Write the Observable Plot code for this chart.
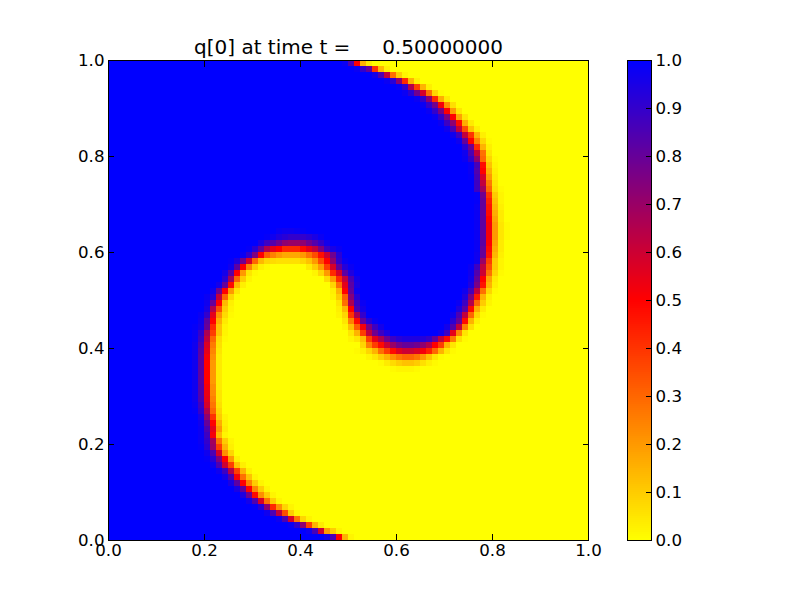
<!DOCTYPE html>
<html>
<head>
<meta charset="utf-8">
<script src="https://cdn.jsdelivr.net/npm/d3@7"></script>
<script src="https://cdn.jsdelivr.net/npm/@observablehq/plot@0.6"></script>
<style>
html,body{margin:0;padding:0;background:#fff;}
#wrap{position:relative;width:800px;height:600px;overflow:hidden;}
#wrap svg{position:absolute;top:0;}
</style>
</head>
<body>
<div id="wrap"></div>
<script>
const titleText = "q[0] at time t =     0.50000000";
const axisTicks = [0, 0.2, 0.4, 0.6, 0.8, 1];
const barTicks = [0, 0.1, 0.2, 0.3, 0.4, 0.5, 0.6, 0.7, 0.8, 0.9, 1];
const colorStops = [0, 0.5, 1];
const colorRange = ["#ffff00", "#ff0000", "#0000ff"];
const gridSize = 80;

// One entry per grid row, top row first. Each segment is [first column, percent values...];
// the columns between segments stay fully blue (100) or fully yellow (0).
const rowsTop = [
  [[39,98,85,50,15,4]],
  [[41,98,90,80,40,14,3]],
  [[44,96,85,62,28,10,2]],
  [[46,98,92,72,42,15,3]],
  [[48,98,90,65,38,15,3]],
  [[49,98,92,78,58,28,8,1]],
  [[51,98,90,72,42,16,4]],
  [[52,98,90,78,52,22,6]],
  [[53,98,90,76,50,20,5]],
  [[54,98,90,75,50,18,5]],
  [[55,98,88,72,48,16,4]],
  [[56,97,85,62,35,12,3]],
  [[57,97,88,62,40,15,3]],
  [[58,97,80,50,25,8,1]],
  [[59,92,78,42,15,3]],
  [[59,97,85,62,28,5]],
  [[59,98,90,72,30,8,1]],
  [[60,98,86,48,12,2]],
  [[60,98,84,50,16,3]],
  [[60,99,86,58,20,4]],
  [[61,88,62,26,5]],
  [[61,88,68,30,6,1]],
  [[61,99,78,40,10,2]],
  [[61,99,80,44,12,2]],
  [[61,98,80,46,14,3]],
  [[61,98,82,48,16,4]],
  [[61,98,82,50,18,4]],
  [[61,98,82,52,20,5,1]],
  [[28,98,97,97,98,99],[61,98,82,52,20,5,1]],
  [[26,99,97,94,92,90,90,90,92,95,98],[61,98,82,52,20,5,1]],
  [[25,95,88,84,78,72,70,70,72,78,84,90,96],[61,98,82,50,18,4]],
  [[23,99,92,80,65,55,50,42,42,42,48,55,62,75,88,95,98],[61,98,80,48,16,4]],
  [[22,98,90,75,50,32,25,20,17,17,17,20,27,35,47,60,78,92],[61,97,80,46,14,3]],
  [[20,99,94,78,58,30,14,8,7,6,6,6,6,8,12,20,35,50,72,90,98],[61,97,70,38,10,2]],
  [[20,97,82,50,24,10,3,1],[33,4,10,20,38,58,80,93,98],[60,98,88,62,34,10,2]],
  [[19,96,82,50,20,5,1],[34,2,8,20,42,58,82,94,99],[60,97,84,60,28,8,1]],
  [[19,92,68,30,10,2],[36,7,20,42,62,85,96],[60,96,80,50,18,4]],
  [[18,96,80,48,14,3],[37,8,28,55,82,95],[60,94,76,46,15,3]],
  [[17,97,78,50,20,5],[37,3,15,50,80,97],[59,97,86,62,28,8,1]],
  [[16,98,93,62,30,8,1],[37,2,10,32,74,92],[59,94,75,45,15,3]]
];
const rowsBottom = [
  [[16,97,80,50,14,3],[38,5,28,66,88,98],[58,98,88,65,30,10,2]],
  [[16,95,65,35,10,2],[38,3,14,50,85,96],[58,94,82,48,16,4]],
  [[15,98,90,55,22,7,1],[38,2,8,40,66,90],[57,97,85,62,30,8,1]],
  [[15,97,82,50,16,4],[39,5,25,48,80,92,98],[57,92,80,48,15,3]],
  [[14,99,96,80,42,12,2],[39,2,13,32,52,75,88,96],[56,96,84,62,25,6]],
  [[14,98,90,66,38,12,2],[40,5,15,38,62,78,88,94],[55,97,88,55,24,5]],
  [[14,98,88,62,30,7,1],[40,2,5,13,38,55,66,78,88,92,94,94,94,93,90,80,62,48,26,6,1]],
  [[14,97,85,57,26,6],[42,8,25,38,48,60,70,77,80,80,78,72,65,50,38,15,5]],
  [[14,97,83,55,24,5],[41,1,3,8,15,28,38,48,56,60,60,57,52,44,30,15,5,1]],
  [[14,97,82,52,22,4],[43,2,5,10,15,22,27,30,30,27,20,12,5,1]],
  [[14,97,82,50,20,4],[45,1,4,7,10,12,12,10,6,3,1]],
  [[14,97,82,50,20,4],[47,1,2,2,2,1]],
  [[14,97,82,50,20,4]],
  [[14,97,82,50,20,4]],
  [[14,97,83,52,22,4]],
  [[14,97,84,54,23,5]],
  [[14,97,85,55,25,5]],
  [[14,98,88,58,27,6]],
  [[14,99,90,65,30,8]],
  [[15,95,72,40,10,2]],
  [[15,97,80,50,16,3]],
  [[15,98,85,55,20,4]],
  [[15,98,88,52,14,2]],
  [[15,98,90,68,28,10,2]],
  [[15,99,92,70,38,15,3]],
  [[16,97,85,58,22,8]],
  [[16,99,92,75,50,20,3]],
  [[17,97,85,60,38,12,3]],
  [[18,97,88,65,38,15,3]],
  [[19,96,84,52,28,12,2]],
  [[20,95,82,50,25,10,2]],
  [[21,95,80,50,24,10,2]],
  [[22,94,78,48,22,10,2]],
  [[23,96,84,58,28,10,2]],
  [[24,99,92,72,42,22,8,2]],
  [[26,97,85,62,35,10,2]],
  [[28,97,85,58,28,8,2]],
  [[30,98,90,72,38,15,4]],
  [[33,97,86,60,20,10,2]],
  [[36,96,85,50,15,2]]
];

const rows = rowsTop.concat(rowsBottom);
const cells = [];
rows.forEach((segs, j) => {
  let fill = segs[0][1] >= 50 ? 100 : 0;
  let col = 0;
  const put = v => {
    cells.push({x1: col / gridSize, x2: (col + 1) / gridSize,
                y1: 1 - (j + 1) / gridSize, y2: 1 - j / gridSize, v: v / 100});
    col++;
  };
  for (const [start, ...vals] of segs) {
    while (col < start) put(fill);
    vals.forEach(put);
    fill = vals[vals.length - 1] >= 50 ? 100 : 0;
  }
  while (col < gridSize) put(fill);
});

const barLevels = d3.range(0, 240).map(i => ({y1: i / 240, y2: (i + 1) / 240, v: (i + 0.5) / 240}));
const colorOpt = {type: "linear", domain: colorStops, range: colorRange, interpolate: "rgb"};
const font = "'DejaVu Sans', sans-serif";
const fs = 16.67;
const fmt = d3.format(".1f");

const main = Plot.plot({
  width: 600, height: 600,
  marginLeft: 108, marginRight: 12, marginTop: 60, marginBottom: 60,
  style: {background: "transparent", fontFamily: font, overflow: "visible"},
  x: {domain: [0, 1]},
  y: {domain: [0, 1]},
  color: colorOpt,
  marks: [
    Plot.rect(cells, {x1: "x1", x2: "x2", y1: "y1", y2: "y2", fill: "v", shapeRendering: "crispEdges", inset: 0}),
    Plot.frame({stroke: "#000", strokeWidth: 1}),
    Plot.axisX({anchor: "bottom", ticks: axisTicks, tickSize: -6, tickPadding: 10, tickFormat: fmt, fontSize: fs, fill: "#000", stroke: "#000", label: null}),
    Plot.axisX({anchor: "top", ticks: axisTicks, tickSize: -6, tickFormat: () => "", label: null, stroke: "#000"}),
    Plot.axisY({anchor: "left", ticks: axisTicks, tickSize: -6, tickPadding: 10, tickFormat: fmt, fontSize: fs, fill: "#000", stroke: "#000", label: null}),
    Plot.axisY({anchor: "right", ticks: axisTicks, tickSize: -6, tickFormat: () => "", label: null, stroke: "#000"}),
    Plot.text([titleText], {frameAnchor: "top", lineAnchor: "bottom", dy: -7, fontSize: 20, fill: "#000"})
  ]
});
main.style.left = "0px";

const bar = Plot.plot({
  width: 200, height: 600,
  marginLeft: 27, marginRight: 149, marginTop: 60, marginBottom: 60,
  style: {background: "transparent", fontFamily: font, overflow: "visible"},
  x: {axis: null, domain: [0, 1]},
  y: {domain: [0, 1]},
  color: colorOpt,
  marks: [
    Plot.rect(barLevels, {x1: 0, x2: 1, y1: "y1", y2: "y2", fill: "v", shapeRendering: "crispEdges"}),
    Plot.frame({stroke: "#000", strokeWidth: 1}),
    Plot.axisY({anchor: "right", ticks: barTicks, tickSize: -6, tickPadding: 10, tickFormat: fmt, fontSize: fs, fill: "#000", stroke: "#000", label: null})
  ]
});
bar.style.left = "600px";

document.getElementById("wrap").append(main, bar);
</script>
</body>
</html>
